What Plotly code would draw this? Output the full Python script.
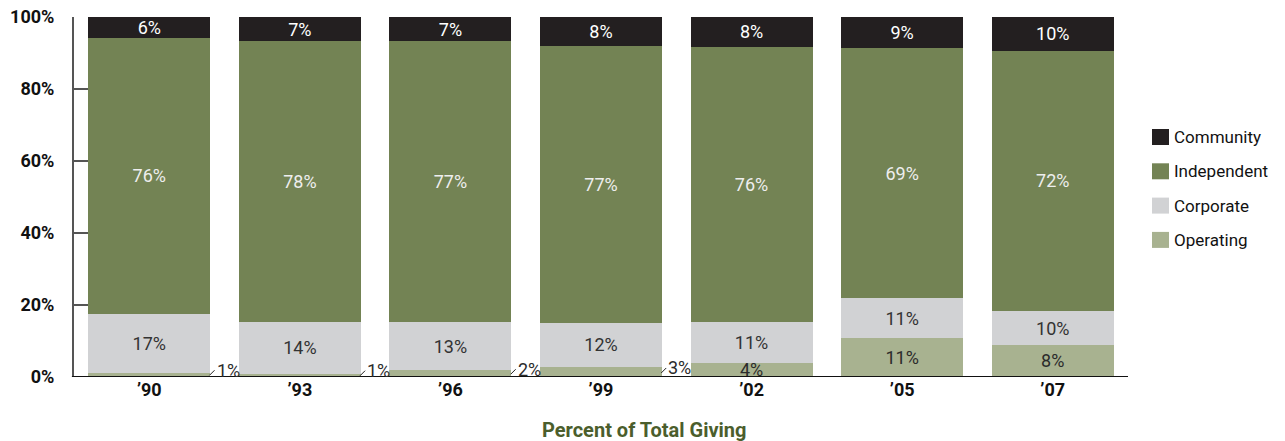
import plotly.graph_objects as go

years = ["\u201990", "\u201993", "\u201996", "\u201999", "\u201902", "\u201905", "\u201907"]
operating = [1.2, 0.9, 1.9, 2.8, 3.9, 10.8, 8.9]
corporate = [16.3, 14.4, 13.4, 12.2, 11.4, 11.1, 9.4]
independent = [76.7, 78.0, 78.0, 77.0, 76.4, 69.5, 72.3]
community = [5.8, 6.7, 6.7, 8.0, 8.3, 8.6, 9.4]

operating_lbl = ["1%", "1%", "2%", "3%", "4%", "11%", "8%"]
corporate_lbl = ["17%", "14%", "13%", "12%", "11%", "11%", "10%"]
independent_lbl = ["76%", "78%", "77%", "77%", "76%", "69%", "72%"]
community_lbl = ["6%", "7%", "7%", "8%", "8%", "9%", "10%"]

series_names = ["Community", "Independent", "Corporate", "Operating"]
series_colors = ["#231f20", "#738354", "#d1d2d4", "#a8b290"]

FONT = "Roboto"
xs = list(range(len(years)))
outside = [0, 1, 2, 3]  # small operating shares labelled outside the bar

fig = go.Figure()

def add(name, vals, lbls, color, tcolor, hide=()):
    txt = ["" if i in hide else l for i, l in enumerate(lbls)]
    fig.add_trace(go.Bar(
        x=xs, y=vals, name=name, marker=dict(color=color, line=dict(width=0)),
        text=txt, textposition="inside", insidetextanchor="middle", textangle=0,
        textfont=dict(family=FONT, size=18, color=tcolor),
        hoverinfo="skip", showlegend=False,
    ))

add("Operating", operating, operating_lbl, series_colors[3], "#2b2b2b", hide=outside)
add("Corporate", corporate, corporate_lbl, series_colors[2], "#333333")
add("Independent", independent, independent_lbl, series_colors[1], "#eeeeee")
add("Community", community, community_lbl, series_colors[0], "#ffffff")

for i in outside:
    fig.add_annotation(
        x=xs[i] + 0.4, y=operating[i] * 0.4, xref="x", yref="y",
        text=operating_lbl[i], showarrow=True, arrowhead=0, arrowwidth=1,
        arrowcolor="#222", ax=5, ay=-5, xanchor="left", standoff=0,
        font=dict(family=FONT, size=18, color="#2b2b2b"),
    )

# the page body margin is removed by post_script; plot area in px: x 74..1128, y 17..377
W, H = 1285, 441
PL, PR, PT, PB = 74, 1128, 17, 377
L, T, R, B = PL, PT, W - PR, H - PB
pw, ph = PR - PL, PB - PT
def px(x):
    return (x - PL) / pw
def py(y):
    return 1 - (y - PT) / ph
for k, (nm, col) in enumerate(zip(series_names, series_colors)):
    cy = 137 + k * 34.3
    fig.add_shape(type="rect", xref="paper", yref="paper",
                  x0=px(1152), x1=px(1169), y0=py(cy - 8), y1=py(cy + 8),
                  fillcolor=col, line=dict(width=0))
    fig.add_annotation(xref="paper", yref="paper", x=px(1172), y=py(cy),
                       text=nm, showarrow=False, xanchor="left", yanchor="middle",
                       font=dict(family=FONT, size=17, color="#111"))

fig.add_annotation(xref="paper", yref="paper", x=px(644), y=py(430),
                   text="Percent of Total Giving", showarrow=False,
                   xanchor="center", yanchor="middle",
                   font=dict(family=FONT, size=20, color="#4b5e2c", weight="bold"))

fig.update_layout(
    width=W, height=H,
    margin=dict(l=L, r=R, t=T, b=B),
    paper_bgcolor="white", plot_bgcolor="white",
    barmode="stack", bargap=0.19,
    uniformtext=dict(mode="show", minsize=18),
    font=dict(family=FONT, color="#111"),
    showlegend=False,
    xaxis=dict(
        range=[-0.5, 6.5], tickvals=xs, ticktext=years, automargin=False,
        showgrid=False, zeroline=False, showline=False, ticks="",
        tickfont=dict(family=FONT, size=18, color="#111", weight="bold"),
    ),
    yaxis=dict(
        range=[0, 100], tickvals=[0, 20, 40, 60, 80, 100], automargin=False,
        ticktext=["0%", "20%", "40%", "60%", "80%", "100%"],
        showgrid=False, zeroline=False, showline=True, linecolor="#555",
        linewidth=2, ticks="inside", ticklen=14, tickwidth=2, tickcolor="#555",
        ticklabelstandoff=14, ticklabeloverflow="allow",
        tickfont=dict(family=FONT, size=18, color="#111", weight="bold"),
    ),
)

fig.add_shape(type="line", xref="paper", yref="y", x0=-0.002, x1=1.0,
              y0=0, y1=0, line=dict(color="#111", width=2))

fig.write_html("out.html", config={"displayModeBar": False},
               post_script="document.body.style.margin='0';document.body.style.overflow='hidden';")
